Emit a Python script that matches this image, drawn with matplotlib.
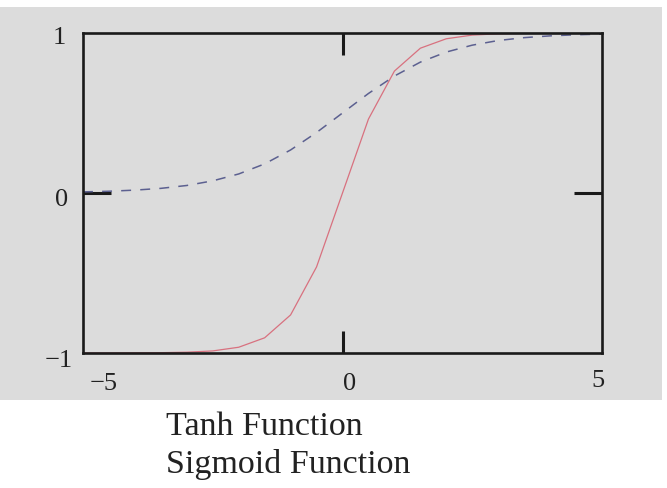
import matplotlib
matplotlib.use('Agg')
import matplotlib.pyplot as plt
from matplotlib.patches import Rectangle

# sample points, step 0.5
x = [-5.0, -4.5, -4.0, -3.5, -3.0, -2.5, -2.0, -1.5, -1.0, -0.5, 0.0,
     0.5, 1.0, 1.5, 2.0, 2.5, 3.0, 3.5, 4.0, 4.5, 5.0]
tanh_vals = [-1.0, -1.0, -0.999, -0.998, -0.995, -0.987, -0.964, -0.905,
             -0.762, -0.462, 0.0, 0.462, 0.762, 0.905, 0.964, 0.987, 0.995,
             0.998, 0.999, 1.0, 1.0]
sigmoid_vals = [0.007, 0.011, 0.018, 0.029, 0.047, 0.076, 0.119, 0.182,
                0.269, 0.378, 0.5, 0.622, 0.731, 0.818, 0.881, 0.924, 0.953,
                0.971, 0.982, 0.989, 0.993]
xlabels = ['\u22125', '0', '5']
ylabels = ['\u22121', '0', '1']
legend_labels = ['Tanh Function', 'Sigmoid Function']

W, H = 667, 488
plt.rcParams['font.family'] = ['Liberation Serif', 'DejaVu Serif']
fig = plt.figure(figsize=(W / 100, H / 100), dpi=100, facecolor='white')

# scanned grey page region, kept behind the axes
fig.patches.append(Rectangle((0, (H - 400) / H), 662 / W, 393 / H,
                             transform=fig.transFigure, facecolor='#dcdcdc',
                             edgecolor='none', zorder=-10))

ax = fig.add_axes([83 / W, (H - 353) / H, 519 / W, 320 / H])
ax.set_zorder(5)
ax.set_facecolor('none')
ax.plot(x, tanh_vals, color='#d8717f', lw=0.9, zorder=2)
ax.plot(x, sigmoid_vals, color='#5c6090', lw=1.1, dashes=(6.5, 6), zorder=2)
ax.set_xlim(-5, 5)
ax.set_ylim(-1, 1)

for s in ax.spines.values():
  s.set_linewidth(1.9)
  s.set_color('#1a1a1a')

ax.set_xticks([0])
ax.set_yticks([0])
ax.tick_params(axis='x', direction='in', length=16, width=2.2, top=True,
               color='#1a1a1a', labelbottom=False)
ax.tick_params(axis='y', direction='in', length=20, width=2.2, right=True,
               color='#1a1a1a', labelleft=False)

# tick labels, placed as in the scan
lab = dict(fontsize=19, color='#222222', ha='center', va='center')
for lbl, px, py in zip(xlabels, [104, 350, 598], [384, 384, 381]):
  fig.text(px / W, 1 - py / H, lbl, **lab)
for lbl, px, py in zip(ylabels, [59, 62, 59], [361, 200, 38]):
  fig.text(px / W, 1 - py / H, lbl, **lab)

for lbl, py in zip(legend_labels, [435, 473]):
  fig.text(166 / W, 1 - py / H, lbl, fontsize=24.5, color='#222222',
           ha='left', va='baseline')

fig.savefig('out.png', dpi=100, facecolor='white')
